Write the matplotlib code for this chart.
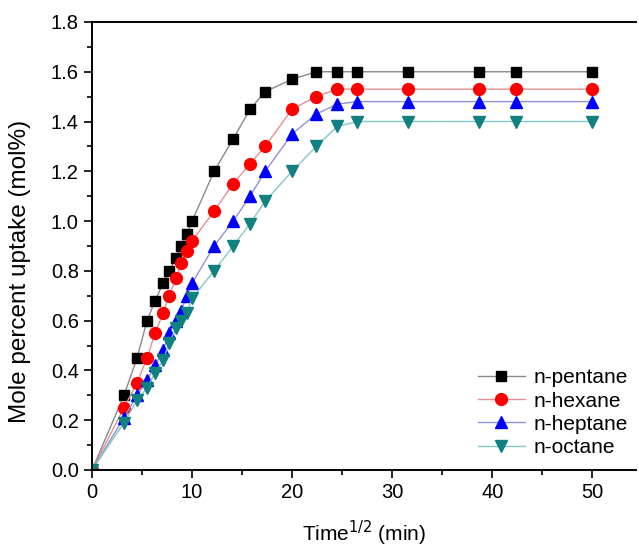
import matplotlib
matplotlib.use("Agg")
import matplotlib.pyplot as plt
from matplotlib.ticker import MultipleLocator

plt.rcParams['font.family'] = ['Liberation Sans', 'DejaVu Sans']

# time^(1/2) values
t = [0, 3.2, 4.5, 5.5, 6.3, 7.1, 7.7, 8.4, 8.9, 9.5, 10.0, 12.2, 14.1,
     15.8, 17.3, 20.0, 22.4, 24.5, 26.5, 31.6, 38.7, 42.4, 50.0]

pentane = [0, 0.30, 0.45, 0.60, 0.68, 0.75, 0.80, 0.85, 0.90, 0.95, 1.00,
           1.20, 1.33, 1.45, 1.52, 1.57, 1.60, 1.60, 1.60, 1.60, 1.60, 1.60, 1.60]
hexane = [0, 0.25, 0.35, 0.45, 0.55, 0.63, 0.70, 0.77, 0.83, 0.88, 0.92,
          1.04, 1.15, 1.23, 1.30, 1.45, 1.50, 1.53, 1.53, 1.53, 1.53, 1.53, 1.53]
heptane = [0, 0.21, 0.30, 0.36, 0.42, 0.48, 0.55, 0.60, 0.64, 0.70, 0.75,
           0.90, 1.00, 1.10, 1.20, 1.35, 1.43, 1.47, 1.48, 1.48, 1.48, 1.48, 1.48]
octane = [0, 0.19, 0.28, 0.33, 0.39, 0.44, 0.51, 0.57, 0.60, 0.63, 0.69,
          0.80, 0.90, 0.99, 1.08, 1.20, 1.30, 1.38, 1.40, 1.40, 1.40, 1.40, 1.40]

fig = plt.figure(figsize=(6.39, 5.49), dpi=100)
ax = fig.add_axes([0.144, 0.144, 0.852, 0.816])

ax.plot(t, pentane, color='#8a8a8a', lw=1, marker='s', ms=7,
        mfc='black', mec='black', label='n-pentane')
ax.plot(t, hexane, color='#e89090', lw=1, marker='o', ms=8.5,
        mfc='#ff0000', mec='#ff0000', label='n-hexane')
ax.plot(t, heptane, color='#9090dd', lw=1, marker='^', ms=9,
        mfc='#0000ff', mec='#0000ff', label='n-heptane')
ax.plot(t, octane, color='#80c8c8', lw=1, marker='v', ms=9,
        mfc='#108080', mec='#108080', label='n-octane')

ax.set_xlim(0, 54.4)
ax.set_ylim(0, 1.8)
ax.xaxis.set_major_locator(MultipleLocator(10))
ax.xaxis.set_minor_locator(MultipleLocator(5))
ax.yaxis.set_major_locator(MultipleLocator(0.2))
ax.yaxis.set_minor_locator(MultipleLocator(0.1))
ax.yaxis.set_major_formatter(plt.FormatStrFormatter('%.1f'))
ax.tick_params(which='both', direction='out', labelsize=14.5, width=1.2)
ax.tick_params(which='major', length=6)
ax.tick_params(which='minor', length=3.5)
ax.spines['right'].set_visible(False)
for s in ['left', 'bottom', 'top']:
    ax.spines[s].set_linewidth(1.4)

ax.set_xlabel('Time$^{1/2}$ (min)', fontsize=15, labelpad=12)
ax.set_ylabel('Mole percent uptake (mol%)', fontsize=17.5)
ax.yaxis.set_label_coords(-0.112, 0.444)

ax.legend(loc='lower right', frameon=False, fontsize=15,
          handlelength=2.25, handletextpad=0.45, labelspacing=0.2,
          borderaxespad=0, borderpad=0, bbox_to_anchor=(0.985, 0.029))

fig.savefig('out.png', dpi=100)
